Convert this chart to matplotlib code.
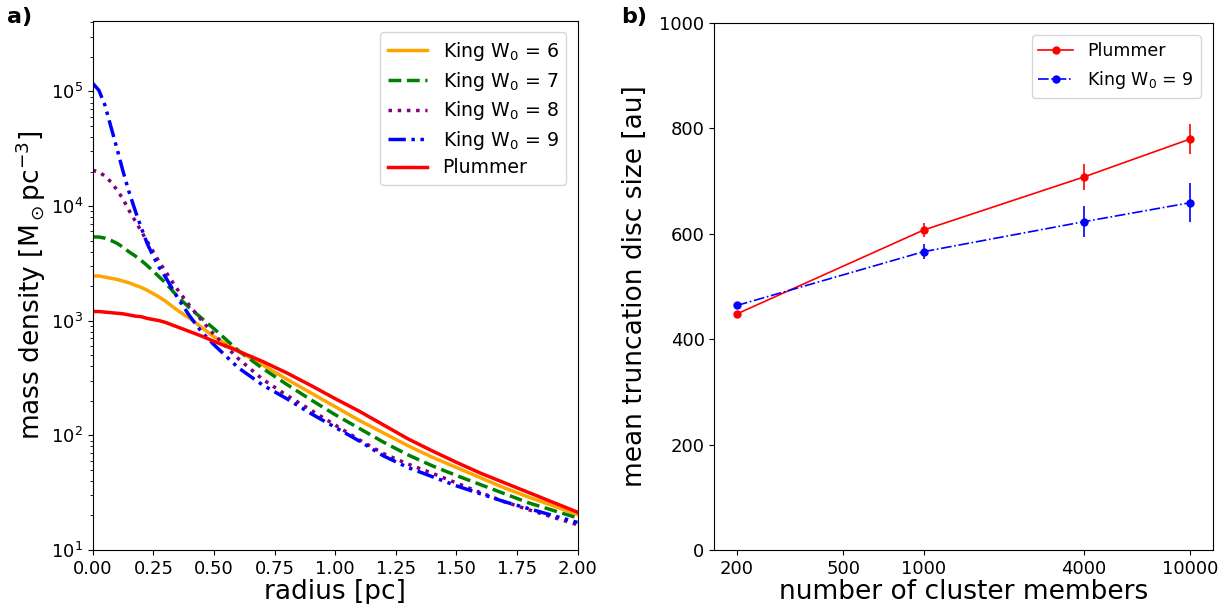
import numpy as np
import matplotlib
matplotlib.use('Agg')
import matplotlib.pyplot as plt
from matplotlib.ticker import ScalarFormatter, NullLocator

# density profiles, log10(rho / Msun pc^-3) against radius in pc
radius = [0.0, 0.025, 0.05, 0.075, 0.1, 0.125, 0.15, 0.175, 0.2, 0.225, 0.25, 0.275,
          0.3, 0.35, 0.4, 0.45, 0.5, 0.6, 0.7, 0.8, 0.9, 1.0, 1.1, 1.2, 1.3, 1.4,
          1.5, 1.6, 1.7, 1.8, 1.9, 2.0]

log_king6 = [3.39, 3.39, 3.38, 3.37, 3.36, 3.345, 3.33, 3.31, 3.29, 3.265, 3.235, 3.205,
             3.17, 3.09, 3.02, 2.94, 2.86, 2.735, 2.615, 2.49, 2.37, 2.25, 2.13, 2.02, 1.91, 1.81,
             1.72, 1.63, 1.54, 1.46, 1.385, 1.31]
log_king7 = [3.73, 3.73, 3.72, 3.70, 3.675, 3.64, 3.60, 3.565, 3.525, 3.48, 3.43, 3.38,
             3.33, 3.21, 3.11, 3.02, 2.93, 2.74, 2.585, 2.445, 2.31, 2.18, 2.06, 1.94, 1.83, 1.735,
             1.65, 1.57, 1.49, 1.41, 1.345, 1.28]
log_king8 = [4.31, 4.30, 4.26, 4.21, 4.14, 4.06, 3.96, 3.87, 3.78, 3.69, 3.60, 3.51,
             3.43, 3.27, 3.13, 3.00, 2.88, 2.67, 2.49, 2.35, 2.22, 2.09, 1.96, 1.84, 1.75, 1.67,
             1.585, 1.50, 1.42, 1.35, 1.285, 1.22]
log_king9 = [5.07, 5.01, 4.88, 4.69, 4.50, 4.30, 4.12, 3.96, 3.81, 3.67, 3.56, 3.46,
             3.38, 3.20, 3.04, 2.90, 2.79, 2.59, 2.44, 2.32, 2.19, 2.07, 1.95, 1.82, 1.72, 1.64,
             1.56, 1.49, 1.42, 1.36, 1.30, 1.24]
log_plummer = [3.08, 3.08, 3.075, 3.07, 3.065, 3.06, 3.05, 3.04, 3.035, 3.02, 3.01, 3.00,
               2.985, 2.945, 2.905, 2.865, 2.82, 2.735, 2.645, 2.545, 2.435, 2.32, 2.21, 2.09, 1.97, 1.865,
               1.765, 1.67, 1.585, 1.50, 1.415, 1.33]

# truncation disc sizes
n_members = [200, 1000, 4000, 10000]
plummer_size = [448, 607, 708, 780]
plummer_err = [5, 13, 25, 29]
king_size = [464, 566, 623, 659]
king_err = [5, 14, 30, 37]

fig = plt.figure(figsize=(12.21, 6.04), dpi=100)
ax1 = fig.add_axes([0.076, 0.0894, 0.397, 0.8756])
ax2 = fig.add_axes([0.585, 0.0894, 0.4085, 0.8726])

r = np.array(radius)
ax1.plot(r, 10**np.array(log_king6), color='orange', lw=2.5, ls='-', label=r'King W$_0$ = 6')
ax1.plot(r, 10**np.array(log_king7), color='green', lw=2.5, ls='--', label=r'King W$_0$ = 7')
ax1.plot(r, 10**np.array(log_king8), color='purple', lw=2.5, ls=':', label=r'King W$_0$ = 8')
ax1.plot(r, 10**np.array(log_king9), color='blue', lw=2.5,
         ls=(0, (5, 1.6, 1, 1.6, 1, 1.6)), label=r'King W$_0$ = 9')
ax1.plot(r, 10**np.array(log_plummer), color='red', lw=2.5, ls='-', label='Plummer')
ax1.set_yscale('log')
ax1.set_xlim(0, 2)
ax1.set_ylim(10, 4.1e5)
ax1.set_xticks(np.arange(0, 2.01, 0.25))
ax1.set_xticklabels(['%.2f' % v for v in np.arange(0, 2.01, 0.25)])
ax1.tick_params(labelsize=13)
ax1.set_xlabel('radius [pc]', fontsize=19, labelpad=1)
ax1.set_ylabel(r'mass density [M$_\odot$pc$^{-3}$]', fontsize=19, labelpad=2)
ax1.legend(loc='upper right', fontsize=13.6, handlelength=2.1, labelspacing=0.35,
           borderaxespad=0.6)

# error bars drawn separately so the legend shows only line + marker
ax2.errorbar(n_members, plummer_size, yerr=plummer_err, color='red', fmt='none', lw=1.2)
ax2.errorbar(n_members, king_size, yerr=king_err, color='blue', fmt='none', lw=1.2)
ax2.plot(n_members, plummer_size, '-o', color='red', ms=5, lw=1.2, label='Plummer')
ax2.plot(n_members, king_size, '-.o', color='blue', ms=5, lw=1.2, label=r'King W$_0$ = 9')
ax2.set_xscale('log')
ax2.set_xticks([200, 500, 1000, 4000, 10000])
ax2.xaxis.set_major_formatter(ScalarFormatter())
ax2.xaxis.set_minor_locator(NullLocator())
ax2.set_ylim(0, 1000)
ax2.set_yticks(np.arange(0, 1001, 200))
ax2.tick_params(labelsize=13)
ax2.set_xlabel('number of cluster members', fontsize=19, labelpad=1)
ax2.set_ylabel('mean truncation disc size [au]', fontsize=19, labelpad=8)
ax2.legend(loc='upper right', fontsize=12.5, borderaxespad=0.7)

fig.text(0.006, 0.962, 'a)', fontsize=16, fontweight='bold')
fig.text(0.509, 0.962, 'b)', fontsize=16, fontweight='bold')

plt.savefig('out.png', dpi=100)
